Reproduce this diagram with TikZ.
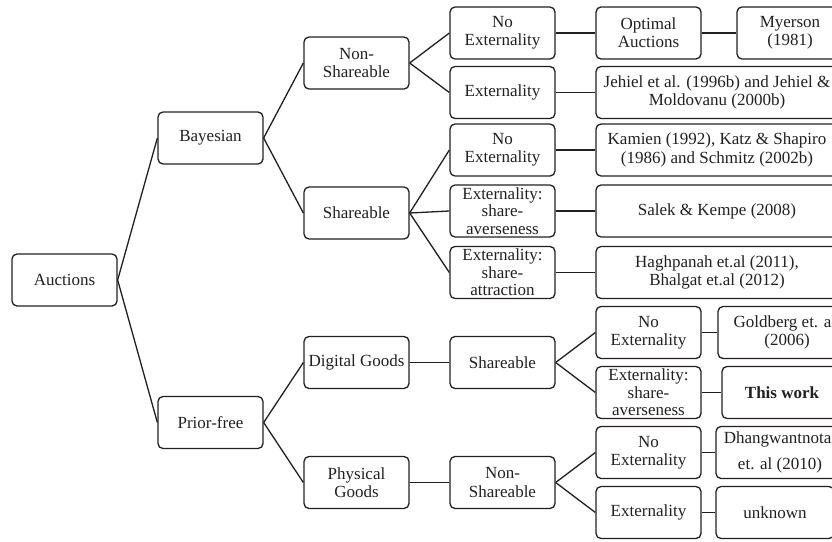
\documentclass[tikz,border=0pt]{standalone}
\usepackage{fontspec}
\setmainfont{Liberation Serif}
\definecolor{ink}{HTML}{231F20}
\tikzset{
  box/.style={draw=ink, text=ink, line width=1.3pt, rounded corners=5pt, minimum width=105pt,
    minimum height=52pt, inner sep=0pt, align=center, font=\fontsize{17}{18.2}\selectfont},
  tbox/.style={box, font=\fontsize{17}{17.5}\selectfont},
  wbox/.style={box, minimum width=242pt},
  conn/.style={draw=ink, line width=1.3pt},
}
\begin{document}
\begin{tikzpicture}[x=1pt,y=-1pt]
\useasboundingbox (0,0) rectangle (832,541);
\clip (0,0) rectangle (832,541);
% column 1-2
\node[box] (auc) at (64.5,280) {Auctions};
\node[box] (bay) at (210.5,138) {Bayesian};
\node[box] (pf) at (210.5,422.5) {Prior-free};
\node[box] (ns1) at (356.5,63) {Non-\\Shareable};
\node[box] (sh1) at (356.5,213) {Shareable};
\node[box] (dg) at (356.5,362.5) {Digital Goods};
\node[box] (pg) at (356.5,482.5) {Physical\\Goods};
% column 3
\node[box] (ne1) at (502.5,33) {No\\Externality};
\node[box] (ex1) at (502.5,92.5) {Externality};
\node[box] (ne2) at (502.5,150) {No\\Externality};
\node[tbox] (sa1) at (502.5,211) {Externality:\\share-\\averseness};
\node[tbox] (st1) at (502.5,272.5) {Externality:\\share-\\attraction};
\node[box] (sh2) at (502.5,362.5) {Shareable};
\node[box] (ns2) at (502.5,482.5) {Non-\\Shareable};
% column 4
\node[box] (opt) at (648.5,33) {Optimal\\Auctions};
\node[wbox] (jeh) at (717,92.5) {Jehiel et al. (1996b) and Jehiel \&\\Moldovanu (2000b)};
\node[wbox] (kam) at (717,150) {Kamien (1992), Katz \& Shapiro\\(1986) and Schmitz (2002b)};
\node[wbox] (sal) at (717,211) {Salek \& Kempe (2008)};
\node[wbox] (hag) at (717,272.5) {Haghpanah et.al (2011),\\Bhalgat et.al (2012)};
\node[box] (ne3) at (648.5,332.5) {No\\Externality};
\node[tbox] (sa2) at (648.5,392.5) {Externality:\\share-\\averseness};
\node[box] (ne4) at (648.5,452.5) {No\\Externality};
\node[box] (ex2) at (648.5,512.5) {Externality};
% column 5
\node[box, minimum width=106pt] (mye) at (790,33) {Myerson\\(1981)};
\node[box, minimum width=138pt] (gol) at (787,332.5) {Goldberg et. al.\\(2006)};
\node[box, minimum width=120pt] (thw) at (782,392.5) {\textbf{This work}};
\node[box, minimum width=128pt] (dha) at (780,452.5) {Dhangwantnotai\\[7pt]et. al (2010)};
\node[box, minimum width=118pt] (unk) at (775,512.5) {unknown};
% connectors
\path[conn] (auc.east) -- (bay.west);
\path[conn] (auc.east) -- (pf.west);
\path[conn] (bay.east) -- (ns1.west);
\path[conn] (bay.east) -- (sh1.west);
\path[conn] (pf.east) -- (dg.west);
\path[conn] (pf.east) -- (pg.west);
\path[conn] (ns1.east) -- (ne1.west);
\path[conn] (ns1.east) -- (ex1.west);
\path[conn] (sh1.east) -- (ne2.west);
\path[conn] (sh1.east) -- (sa1.west);
\path[conn] (sh1.east) -- (st1.west);
\path[conn] (dg.east) -- (sh2.west);
\path[conn] (pg.east) -- (ns2.west);
\path[conn] (ne1.east) -- (opt.west);
\path[conn] (opt.east) -- (mye.west);
\path[conn] (ex1.east) -- (jeh.west);
\path[conn] (ne2.east) -- (kam.west);
\path[conn] (sa1.east) -- (sal.west);
\path[conn] (st1.east) -- (hag.west);
\path[conn] (sh2.east) -- (ne3.west);
\path[conn] (sh2.east) -- (sa2.west);
\path[conn] (ns2.east) -- (ne4.west);
\path[conn] (ns2.east) -- (ex2.west);
\path[conn] (ne3.east) -- (gol.west);
\path[conn] (sa2.east) -- (thw.west);
\path[conn] (ne4.east) -- (dha.west);
\path[conn] (ex2.east) -- (unk.west);
\end{tikzpicture}
\end{document}
